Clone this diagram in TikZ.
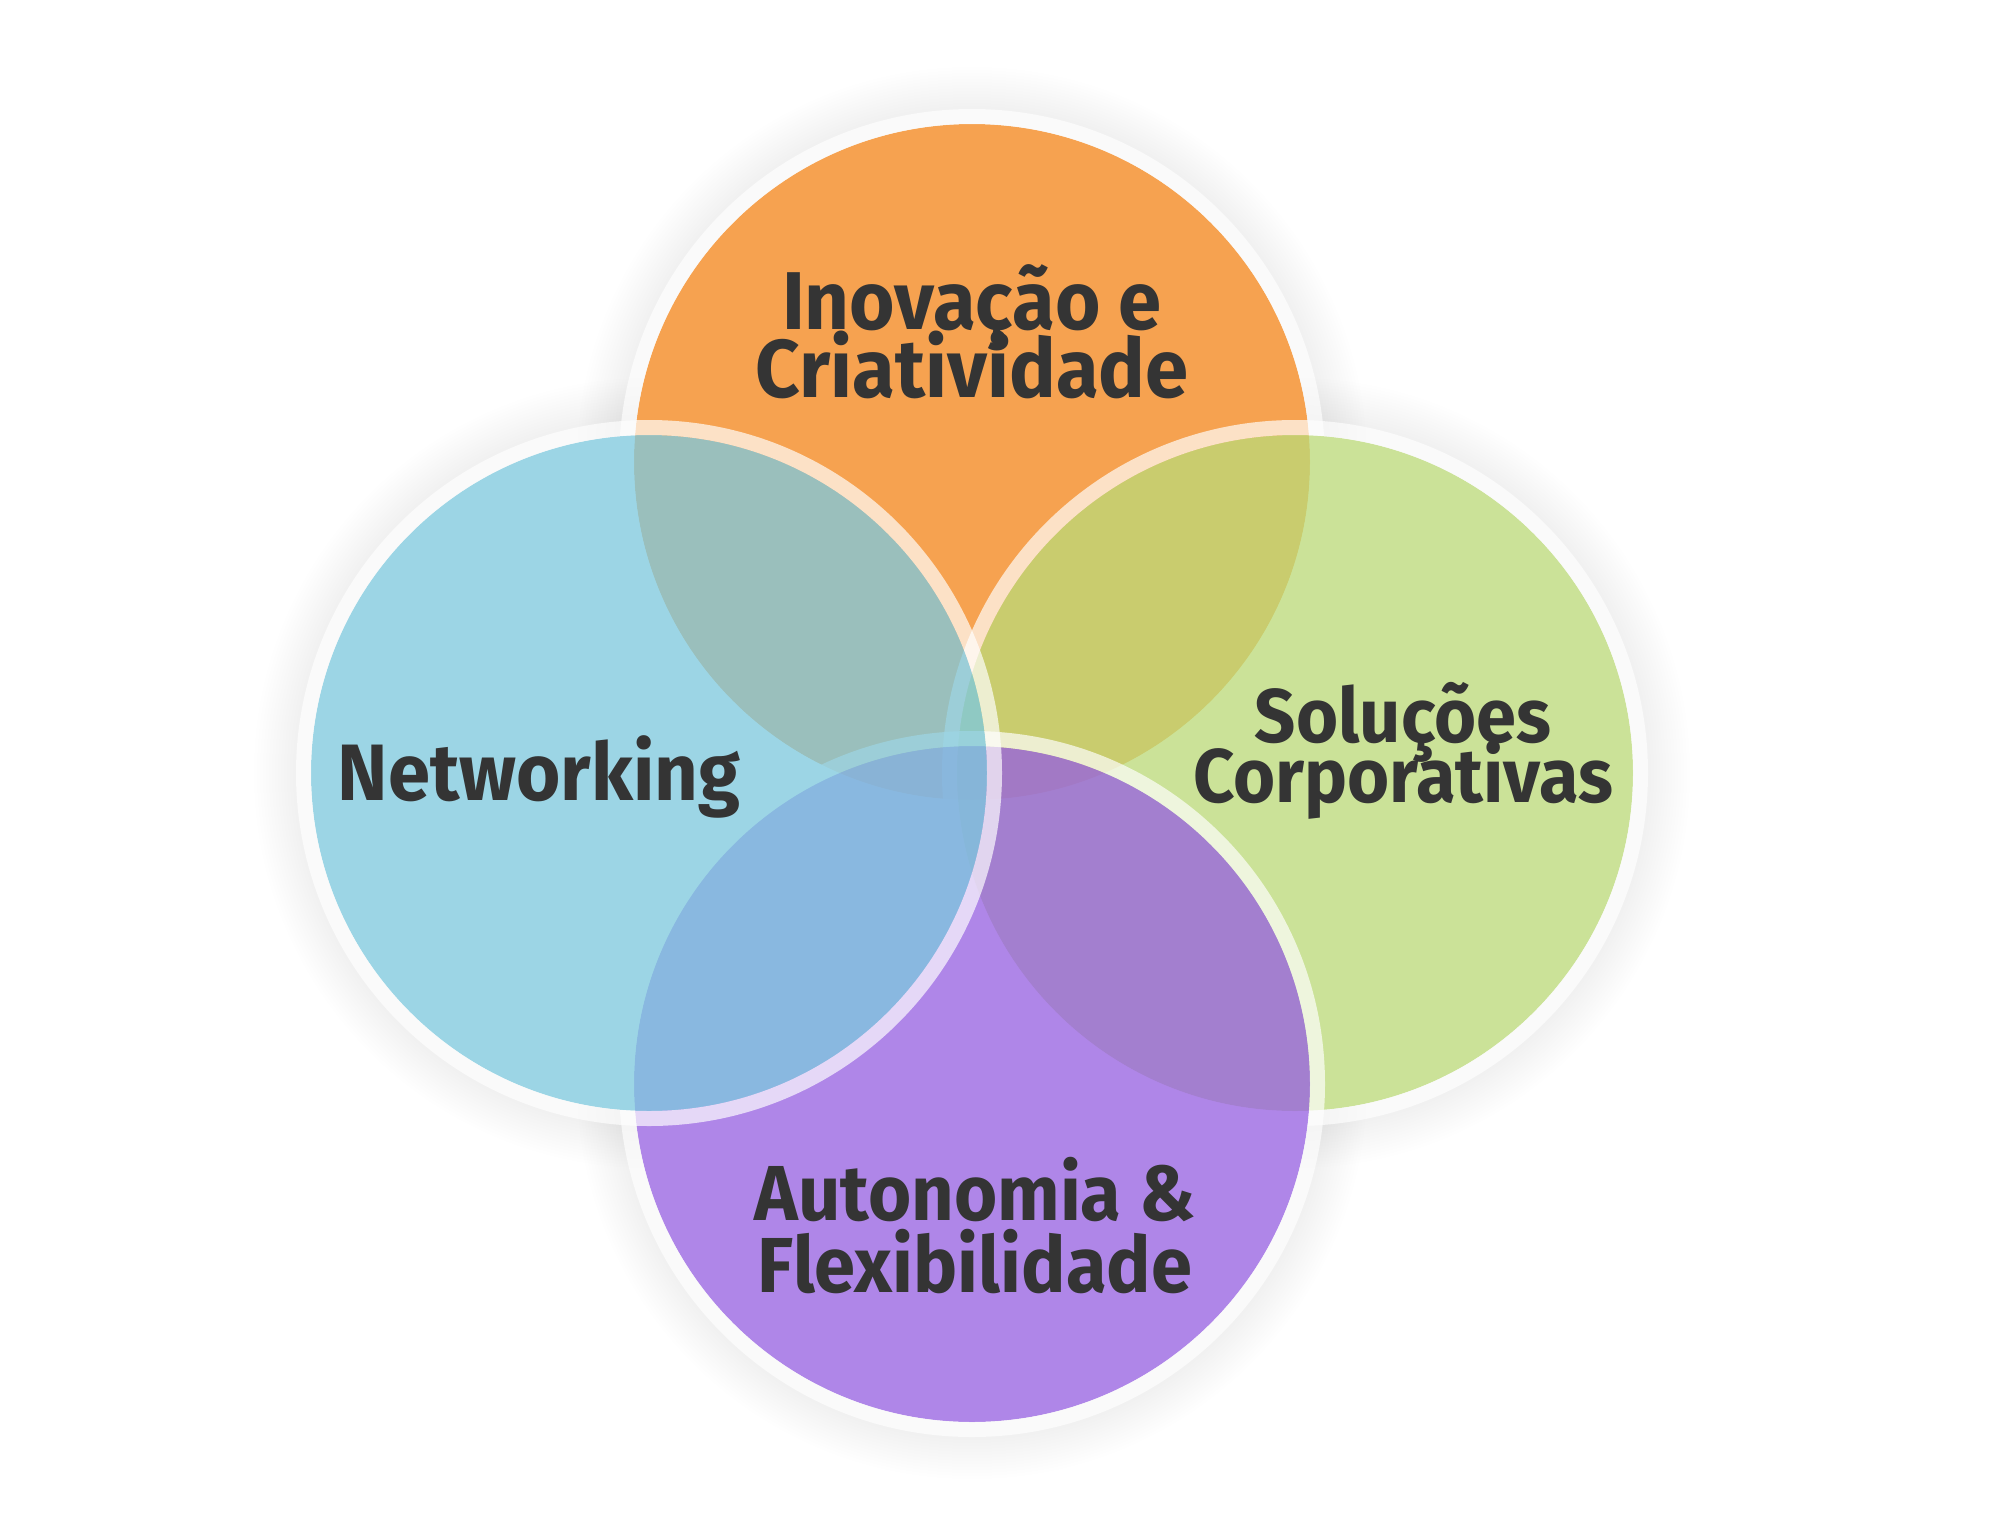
\documentclass[tikz,border=0pt]{standalone}
\usepackage{fontspec}
\newfontfamily\labfont{Fira Sans}[FakeStretch=0.95]
\definecolor{cOrange}{RGB}{244,134,25}
\definecolor{cBlue}{RGB}{126,201,222}
\definecolor{cGreen}{RGB}{187,218,120}
\definecolor{cPurple}{RGB}{151,96,225}
\definecolor{txt}{RGB}{52,52,52}
\tikzset{
  disc/.style={fill opacity=0.76},
  band/.style={draw=white, draw opacity=0.68, line width=15pt},
  lab/.style={text=txt, align=center, anchor=base, inner sep=0pt},
}
\newcommand\labsize[2]{\labfont\bfseries\fontsize{#1}{#2}\selectfont\lineskiplimit=-1000pt\lineskip=0pt}
\begin{document}
\begin{tikzpicture}[x=1pt,y=-1pt]
\useasboundingbox (0,0) rectangle (2000,1529);
\fill[white] (0,0) rectangle (2000,1529);
\coordinate (cT) at (972,462);
\coordinate (cL) at (649,773);
\coordinate (cR) at (1295,773);
\coordinate (cB) at (972,1084);
% soft shadow
\foreach \c in {cT,cL,cR,cB}{
  \foreach \k in {0,...,14}{
    \fill[black, opacity=0.005] (\c) circle[radius={353pt+3pt*\k}];
  }
}
% white under-discs
\foreach \c in {cT,cL,cR,cB}{
  \fill[white] (\c) circle[radius=338pt];
}
% coloured discs in stacking order
\fill[cOrange, disc] (cT) circle[radius=338pt];
\draw[band] (cT) circle[radius=345.5pt];
\fill[cGreen, disc] (cR) circle[radius=338pt];
\draw[band] (cR) circle[radius=345.5pt];
\fill[cPurple, disc] (cB) circle[radius=338pt];
\draw[band] (cB) circle[radius=345.5pt];
\fill[cBlue, disc] (cL) circle[radius=338pt];
\draw[band] (cL) circle[radius=345.5pt];
% labels (anchor = baseline of last line)
\node[lab, font=\labsize{82}{68}] (tInov) at (972,397) {Inovação e\\Criatividade};
\node[lab, font=\labsize{80}{70}] (tNet) at (539,800) {Networking};
\node[lab, font=\labsize{76}{60}] (tSol) at (1403,802) {Soluções\\Corporativas};
\node[lab, font=\labsize{78}{72}] (tAut) at (975,1292) {Autonomia \&\\Flexibilidade};
\end{tikzpicture}
\end{document}
